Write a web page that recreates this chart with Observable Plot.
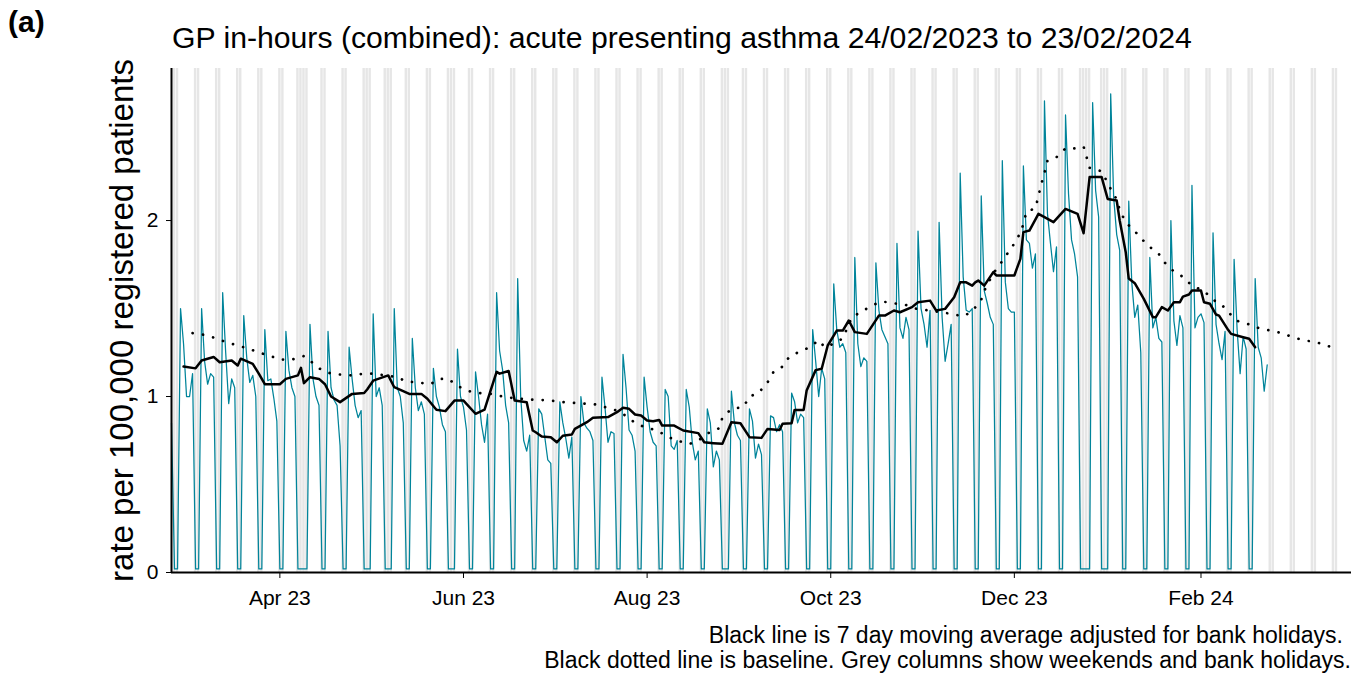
<!DOCTYPE html>
<html>
<head>
<meta charset="utf-8">
<script src="https://cdn.jsdelivr.net/npm/d3@7"></script>
<script src="https://cdn.jsdelivr.net/npm/@observablehq/plot@0.6"></script>
<style>
html,body{margin:0;padding:0;background:#fff;}
#wrap{position:relative;width:1362px;height:675px;font-family:"Liberation Sans",Arial,sans-serif;color:#000;overflow:hidden;}
.t{position:absolute;white-space:nowrap;line-height:1;}
#chart{position:absolute;left:0;top:60px;}
</style>
</head>
<body>
<div id="wrap">
  <div class="t" id="tag" style="left:8px;top:7px;font-size:30px;font-weight:bold"></div>
  <div class="t" id="title" style="left:172px;top:23px;font-size:30.2px"></div>
  <div id="chart"></div>
  <div class="t" id="cap1" style="right:19px;top:624px;font-size:23px"></div>
  <div class="t" id="cap2" style="right:11px;top:649px;font-size:23px"></div>
</div>
<script>
// ---------- text ----------
const panelTag = "(a)";
const titleText = "GP in-hours (combined): acute presenting asthma 24/02/2023 to 23/02/2024";
const yLabel = "rate per 100,000 registered patients";
const captionLines = [
  "Black line is 7 day moving average adjusted for bank holidays.",
  "Black dotted line is baseline. Grey columns show weekends and bank holidays."
];

// ---------- data ----------
const dataStart = "2023-02-24";        // Friday
const axisEnd = "2024-03-22";
const columnsEnd = "2024-03-17";
const firstDayRate = 0.85;             // Fri 24/02/2023
const weekendRate = 0.02;
// Mon..Fri rates for each week starting Mon 27/02/2023 (bank holidays ~0)
const weekdayRates = [
  [1.50, 1.30, 1.00, 1.00, 1.13], // 27 Feb
  [1.50, 1.20, 1.07, 1.13, 1.11], // 06 Mar
  [1.59, 1.25, 0.96, 1.10, 1.05], // 13 Mar
  [1.46, 1.22, 1.08, 1.12, 1.00], // 20 Mar
  [1.38, 1.09, 1.10, 0.99, 0.86], // 27 Mar
  [1.37, 1.15, 1.05, 1.00, 0.02], // 03 Apr (Good Friday)
  [0.02, 1.41, 1.10, 1.00, 0.95], // 10 Apr (Easter Monday)
  [1.37, 1.05, 0.98, 0.95, 0.72], // 17 Apr
  [1.28, 1.10, 0.95, 0.88, 0.92], // 24 Apr
  [0.02, 1.47, 1.00, 1.05, 0.95], // 01 May
  [0.02, 1.50, 1.05, 1.00, 0.85], // 08 May
  [1.33, 1.05, 0.92, 0.97, 0.90], // 15 May
  [1.16, 1.00, 0.94, 0.84, 0.80], // 22 May
  [0.02, 1.27, 1.00, 0.94, 0.81], // 29 May
  [1.14, 1.00, 0.84, 0.74, 0.90], // 05 Jun
  [1.59, 1.26, 1.15, 0.95, 0.85], // 12 Jun
  [1.67, 1.00, 0.75, 0.69, 0.78], // 19 Jun
  [0.93, 0.90, 0.77, 0.64, 0.62], // 26 Jun
  [0.97, 0.85, 0.76, 0.65, 0.77], // 03 Jul
  [1.00, 0.85, 0.82, 0.80, 0.75], // 10 Jul
  [1.11, 0.94, 0.74, 0.80, 0.79], // 17 Jul
  [1.24, 1.05, 0.81, 0.78, 0.69], // 24 Jul
  [1.11, 0.94, 0.80, 0.74, 0.72], // 31 Jul
  [1.04, 1.00, 0.72, 0.70, 0.75], // 07 Aug
  [1.04, 0.94, 0.74, 0.64, 0.69], // 14 Aug
  [0.93, 0.85, 0.60, 0.69, 0.64], // 21 Aug
  [0.02, 1.03, 0.85, 0.78, 0.75], // 28 Aug
  [0.93, 0.86, 0.65, 0.73, 0.67], // 04 Sep
  [0.89, 0.88, 0.80, 0.84, 0.80], // 11 Sep
  [1.02, 0.97, 0.85, 0.90, 0.88], // 18 Sep
  [1.38, 1.20, 1.00, 1.16, 1.10], // 25 Sep
  [1.64, 1.38, 1.28, 1.30, 1.25], // 02 Oct
  [1.79, 1.30, 1.17, 1.22, 1.20], // 09 Oct
  [1.76, 1.49, 1.38, 1.34, 1.30], // 16 Oct
  [1.87, 1.39, 1.33, 1.45, 1.38], // 23 Oct
  [1.94, 1.50, 1.41, 1.28, 1.49], // 30 Oct
  [1.99, 1.45, 1.20, 1.30, 1.41], // 06 Nov
  [2.27, 1.68, 1.49, 1.48, 1.50], // 13 Nov
  [2.14, 1.60, 1.53, 1.45, 1.41], // 20 Nov
  [2.34, 1.65, 1.50, 1.48, 1.48], // 27 Nov
  [2.31, 1.89, 1.87, 1.73, 1.81], // 04 Dec
  [2.68, 2.04, 1.87, 1.71, 1.85], // 11 Dec
  [2.60, 2.15, 1.89, 1.81, 1.68], // 18 Dec
  [0.02, 0.02, 2.67, 2.17, 2.02], // 25 Dec
  [0.02, 2.72, 2.13, 1.92, 1.83], // 01 Jan
  [2.11, 1.65, 1.45, 1.52, 1.25], // 08 Jan
  [1.79, 1.39, 1.45, 1.33, 1.31], // 15 Jan
  [2.00, 1.43, 1.29, 1.46, 1.39], // 22 Jan
  [2.20, 1.39, 1.45, 1.47, 1.42], // 29 Jan
  [1.93, 1.41, 1.30, 1.21, 1.37], // 05 Feb
  [1.78, 1.38, 1.13, 1.34, 1.27], // 12 Feb
  [1.67, 1.28, 1.22, 1.03, 1.18]  // 19 Feb
];
const bankHolidays = ["2023-04-07","2023-04-10","2023-05-01","2023-05-08","2023-05-29",
  "2023-08-28","2023-12-25","2023-12-26","2024-01-01"];
// 7 day moving average
const movingAverage = [
  ["2023-02-28",1.17],["2023-03-04",1.16],["2023-03-06",1.205],["2023-03-10",1.225],["2023-03-12",1.195],
  ["2023-03-16",1.205],["2023-03-18",1.176],["2023-03-19",1.215],["2023-03-23",1.186],["2023-03-25",1.13],
  ["2023-03-27",1.07],["2023-04-01",1.07],["2023-04-03",1.10],["2023-04-07",1.12],["2023-04-08",1.163],
  ["2023-04-09",1.076],["2023-04-11",1.11],["2023-04-14",1.10],["2023-04-16",1.07],["2023-04-18",1.00],
  ["2023-04-21",0.968],["2023-04-25",1.015],["2023-04-29",1.02],["2023-04-30",1.04],["2023-05-02",1.09],
  ["2023-05-07",1.12],["2023-05-09",1.053],["2023-05-14",1.015],["2023-05-18",1.015],["2023-05-20",0.987],
  ["2023-05-23",0.925],["2023-05-26",0.917],["2023-05-29",0.977],["2023-06-01",0.977],["2023-06-05",0.902],
  ["2023-06-08",0.925],["2023-06-10",1.034],["2023-06-12",1.14],["2023-06-13",1.13],["2023-06-16",1.145],
  ["2023-06-18",0.977],["2023-06-22",0.968],["2023-06-24",0.807],["2023-06-25",0.797],["2023-06-27",0.773],
  ["2023-06-30",0.769],["2023-07-02",0.74],["2023-07-04",0.777],["2023-07-07",0.784],["2023-07-08",0.816],
  ["2023-07-12",0.854],["2023-07-14",0.879],["2023-07-19",0.883],["2023-07-22",0.911],["2023-07-24",0.936],
  ["2023-07-26",0.93],["2023-07-28",0.898],["2023-07-30",0.892],["2023-08-01",0.864],["2023-08-03",0.86],
  ["2023-08-05",0.867],["2023-08-06",0.835],["2023-08-10",0.835],["2023-08-13",0.807],["2023-08-18",0.792],
  ["2023-08-20",0.74],["2023-08-23",0.735],["2023-08-26",0.731],["2023-08-29",0.854],["2023-09-01",0.848],
  ["2023-09-04",0.769],["2023-09-08",0.765],["2023-09-10",0.816],["2023-09-14",0.81],["2023-09-15",0.845],
  ["2023-09-18",0.848],["2023-09-19",0.924],["2023-09-22",0.924],["2023-09-23",1.034],["2023-09-26",1.15],
  ["2023-09-28",1.158],["2023-09-30",1.29],["2023-10-03",1.375],["2023-10-05",1.375],["2023-10-07",1.432],
  ["2023-10-09",1.366],["2023-10-13",1.356],["2023-10-17",1.46],["2023-10-19",1.46],["2023-10-22",1.489],
  ["2023-10-24",1.479],["2023-10-28",1.508],["2023-10-30",1.536],["2023-11-03",1.545],["2023-11-05",1.489],
  ["2023-11-08",1.498],["2023-11-11",1.564],["2023-11-13",1.649],["2023-11-15",1.649],["2023-11-17",1.63],
  ["2023-11-18",1.649],["2023-11-19",1.659],["2023-11-21",1.63],["2023-11-24",1.707],["2023-11-25",1.688],
  ["2023-12-01",1.688],["2023-12-03",1.782],["2023-12-04",1.934],["2023-12-06",1.943],["2023-12-09",2.038],
  ["2023-12-11",2.019],["2023-12-14",1.991],["2023-12-18",2.066],["2023-12-22",2.038],["2023-12-24",1.928],
  ["2023-12-26",2.247],["2023-12-30",2.247],["2024-01-01",2.123],["2024-01-04",2.114],["2024-01-05",2.0],
  ["2024-01-07",1.82],["2024-01-08",1.67],["2024-01-10",1.644],["2024-01-13",1.555],["2024-01-16",1.451],
  ["2024-01-17",1.451],["2024-01-19",1.508],["2024-01-21",1.489],["2024-01-23",1.536],["2024-01-25",1.536],
  ["2024-01-26",1.568],["2024-01-28",1.58],["2024-01-29",1.602],["2024-02-01",1.602],["2024-02-02",1.536],
  ["2024-02-04",1.527],["2024-02-06",1.466],["2024-02-07",1.46],["2024-02-10",1.379],["2024-02-11",1.356],
  ["2024-02-15",1.337],["2024-02-17",1.328],["2024-02-19",1.28]
];
// baseline
const baseline = [
  ["2023-03-03",1.36],["2023-03-07",1.35],["2023-03-11",1.33],["2023-03-14",1.31],["2023-03-18",1.29],
  ["2023-03-22",1.27],["2023-03-25",1.25],["2023-03-29",1.23],["2023-04-01",1.21],["2023-04-05",1.21],
  ["2023-04-09",1.23],["2023-04-12",1.19],["2023-04-14",1.16],["2023-04-18",1.13],["2023-04-21",1.125],
  ["2023-04-25",1.12],["2023-04-29",1.13],["2023-05-02",1.13],["2023-05-06",1.12],["2023-05-10",1.11],
  ["2023-05-13",1.085],["2023-05-17",1.08],["2023-05-21",1.07],["2023-05-24",1.10],["2023-05-27",1.10],
  ["2023-05-30",1.06],["2023-06-03",1.03],["2023-06-06",1.02],["2023-06-10",1.015],["2023-06-14",1.00],
  ["2023-06-18",0.99],["2023-06-22",0.985],["2023-06-26",0.98],["2023-06-29",0.98],["2023-07-03",0.97],
  ["2023-07-07",0.965],["2023-07-11",0.96],["2023-07-15",0.955],["2023-07-18",0.94],["2023-07-22",0.92],
  ["2023-07-25",0.89],["2023-07-28",0.85],["2023-08-01",0.82],["2023-08-04",0.81],["2023-08-08",0.77],
  ["2023-08-11",0.75],["2023-08-15",0.73],["2023-08-18",0.75],["2023-08-22",0.80],["2023-08-25",0.82],
  ["2023-08-26",0.88],["2023-08-29",0.93],["2023-09-02",0.94],["2023-09-04",1.00],["2023-09-07",1.02],
  ["2023-09-10",1.08],["2023-09-12",1.14],["2023-09-15",1.17],["2023-09-17",1.22],["2023-09-20",1.25],
  ["2023-09-24",1.28],["2023-09-27",1.32],["2023-09-29",1.28],["2023-10-02",1.30],["2023-10-05",1.33],
  ["2023-10-08",1.45],["2023-10-11",1.48],["2023-10-15",1.52],["2023-10-18",1.54],["2023-10-22",1.53],
  ["2023-10-26",1.52],["2023-10-29",1.50],["2023-11-02",1.49],["2023-11-06",1.48],["2023-11-10",1.47],
  ["2023-11-14",1.455],["2023-11-17",1.485],["2023-11-20",1.55],["2023-11-21",1.60],["2023-11-24",1.70],
  ["2023-11-27",1.77],["2023-11-29",1.82],["2023-12-01",1.87],["2023-12-03",1.93],["2023-12-04",1.98],
  ["2023-12-05",2.05],["2023-12-08",2.07],["2023-12-09",2.14],["2023-12-10",2.21],["2023-12-11",2.27],
  ["2023-12-12",2.34],["2023-12-15",2.36],["2023-12-18",2.41],["2023-12-21",2.41],["2023-12-24",2.42],
  ["2023-12-25",2.36],["2023-12-26",2.30],["2023-12-30",2.28],["2024-01-02",2.18],["2024-01-04",2.12],
  ["2024-01-05",2.06],["2024-01-07",1.99],["2024-01-10",1.94],["2024-01-12",1.90],["2024-01-15",1.85],
  ["2024-01-18",1.81],["2024-01-20",1.76],["2024-01-23",1.71],["2024-01-26",1.68],["2024-01-29",1.63],
  ["2024-02-02",1.60],["2024-02-05",1.55],["2024-02-08",1.52],["2024-02-10",1.48],["2024-02-13",1.43],
  ["2024-02-17",1.41],["2024-02-20",1.39],["2024-02-24",1.375],["2024-02-28",1.36],["2024-03-02",1.34],
  ["2024-03-06",1.32],["2024-03-10",1.31],["2024-03-13",1.295],["2024-03-17",1.27]
];
const xTickDates = ["2023-04-01","2023-06-01","2023-08-01","2023-10-01","2023-12-01","2024-02-01"];
const yTicks = [0, 1, 2];
const yMax = 2.864;

// ---------- build tables ----------
const parse = d3.utcParse("%Y-%m-%d");
const start = parse(dataStart);
const daily = [{date: start, rate: firstDayRate},
  {date: d3.utcDay.offset(start, 1), rate: weekendRate},
  {date: d3.utcDay.offset(start, 2), rate: weekendRate}];
weekdayRates.forEach((week, k) => {
  const mon = d3.utcDay.offset(start, 3 + 7 * k);
  week.forEach((v, i) => daily.push({date: d3.utcDay.offset(mon, i), rate: v}));
  if (k < weekdayRates.length - 1) {
    daily.push({date: d3.utcDay.offset(mon, 5), rate: weekendRate});
    daily.push({date: d3.utcDay.offset(mon, 6), rate: weekendRate});
  }
});
const bhSet = new Set(bankHolidays);
const fmt = d3.utcFormat("%Y-%m-%d");
const greyDays = d3.utcDays(start, d3.utcDay.offset(parse(columnsEnd), 1))
  .filter(d => d.getUTCDay() === 0 || d.getUTCDay() === 6 || bhSet.has(fmt(d)));
const maRows = movingAverage.map(([d, v]) => ({date: parse(d), rate: v}));
const baseRows = baseline.map(([d, v]) => ({date: parse(d), rate: v}));

const teal = "#00849a";

const chart = Plot.plot({
  width: 1362,
  height: 555,
  marginLeft: 171,
  marginRight: 11,
  marginTop: 8,
  marginBottom: 43,
  style: {fontSize: "21px", fontFamily: "Liberation Sans, Arial, sans-serif", color: "#000", background: "transparent", overflow: "visible"},
  x: {type: "utc", domain: [start, parse(axisEnd)], ticks: xTickDates.map(parse),
      tickFormat: d3.utcFormat("%b %y"), tickSize: 6, tickPadding: 12, label: null},
  y: {domain: [0, yMax], ticks: yTicks, tickSize: 5, tickPadding: 8, label: null, tickFormat: d3.format("d")},
  marks: [
    Plot.rect(greyDays, {x1: d => d3.utcHour.offset(d, -12), x2: d => d3.utcHour.offset(d, 12),
      fill: "#e6e6e6", insetLeft: 0.3, insetRight: 0.3}),
    Plot.line(daily, {x: "date", y: "rate", stroke: teal, strokeWidth: 1.25}),
    Plot.line(baseRows, {x: "date", y: "rate", stroke: "#000", strokeWidth: 2.7,
      strokeDasharray: "0.1,10.4", strokeLinecap: "round"}),
    Plot.line(maRows, {x: "date", y: "rate", stroke: "#000", strokeWidth: 2.5}),
    Plot.ruleX([start], {stroke: "#000", strokeWidth: 2}),
    Plot.ruleY([0], {stroke: "#000", strokeWidth: 2}),
    Plot.text([yLabel], {frameAnchor: "left", rotate: -90, dx: -49, fontSize: 33,
      textAnchor: "middle", lineAnchor: "middle", fill: "#000"})
  ]
});
document.getElementById("chart").appendChild(chart);
document.getElementById("tag").textContent = panelTag;
document.getElementById("title").textContent = titleText;
document.getElementById("cap1").textContent = captionLines[0];
document.getElementById("cap2").textContent = captionLines[1];
</script>
</body>
</html>
